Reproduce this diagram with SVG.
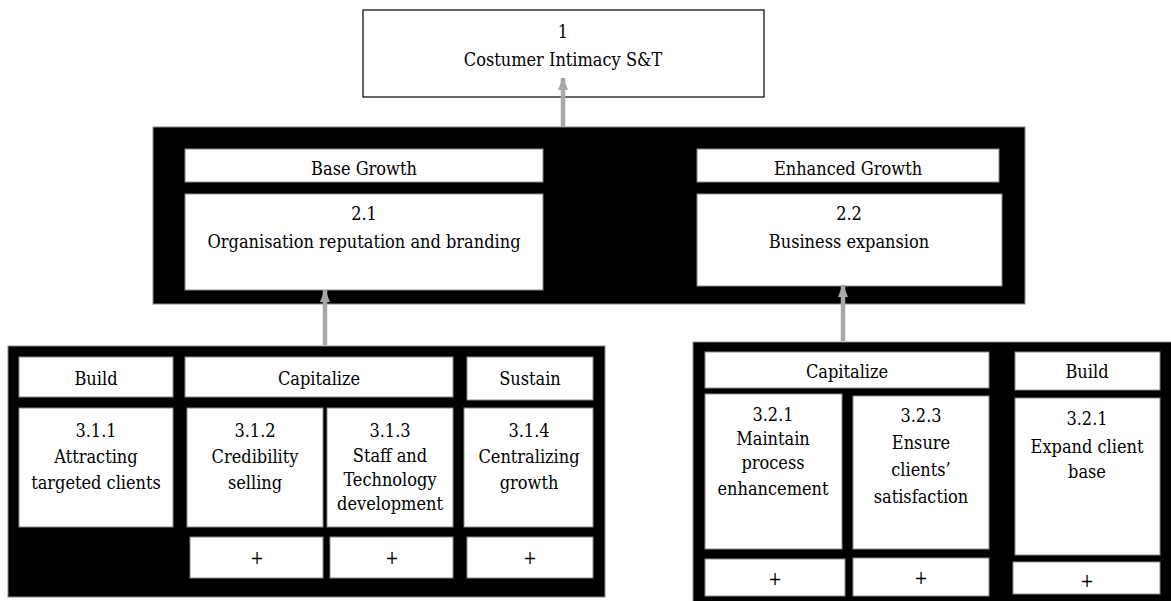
<svg xmlns="http://www.w3.org/2000/svg" width="1171" height="601" viewBox="0 0 1171 601">
  <style>
    .panel { fill: #000; stroke: #8a8a8a; stroke-width: 1; }
    .box { fill: #fff; stroke: #8a8a8a; stroke-width: 1; }
    .top { fill: #fff; stroke: #000; stroke-width: 1.2; }
    .lbl { font-family: "DejaVu Serif Condensed", "DejaVu Serif", serif; font-size: 18px; fill: #000; text-anchor: middle; }
    .link { stroke: #a8a8a8; stroke-width: 4.5; fill: none; }
  </style>
  <defs>
    <marker id="arrow" viewBox="0 0 13 10" refX="12" refY="5" markerWidth="13" markerHeight="10" markerUnits="userSpaceOnUse" orient="auto">
      <path d="M0,0 L13,5 L0,10 Z" fill="#a8a8a8"/>
    </marker>
  </defs>

  <rect width="1171" height="601" fill="#fff"/>

  <!-- level 1 -->
  <g id="node-1">
    <rect class="top" x="363" y="10" width="401" height="87"/>
    <text class="lbl" x="563" y="38">1</text>
    <text class="lbl" x="563" y="66">Costumer Intimacy S&amp;T</text>
  </g>

  <!-- level 2 panel -->
  <g id="panel-2">
    <rect class="panel" x="153" y="127" width="872" height="177"/>
  </g>
  <g id="node-base-growth">
    <rect class="box" x="185" y="149" width="358" height="33"/>
    <text class="lbl" x="364" y="175">Base Growth</text>
  </g>
  <g id="node-2-1">
    <rect class="box" x="185" y="194" width="358" height="96"/>
    <text class="lbl" x="364" y="220">2.1</text>
    <text class="lbl" x="364" y="248">Organisation reputation and branding</text>
  </g>
  <g id="node-enhanced-growth">
    <rect class="box" x="697" y="149" width="302" height="33"/>
    <text class="lbl" x="848" y="175">Enhanced Growth</text>
  </g>
  <g id="node-2-2">
    <rect class="box" x="697" y="194" width="305" height="92"/>
    <text class="lbl" x="849" y="220">2.2</text>
    <text class="lbl" x="849" y="248">Business expansion</text>
  </g>

  <!-- level 3, left panel -->
  <g id="panel-3-1">
    <rect class="panel" x="8" y="346" width="597" height="251"/>
  </g>
  <g id="node-build-1">
    <rect class="box" x="19" y="357" width="154" height="40"/>
    <text class="lbl" x="96" y="385">Build</text>
  </g>
  <g id="node-capitalize-1">
    <rect class="box" x="185" y="357" width="268" height="40"/>
    <text class="lbl" x="319" y="385">Capitalize</text>
  </g>
  <g id="node-sustain">
    <rect class="box" x="467" y="357" width="126" height="43"/>
    <text class="lbl" x="530" y="385">Sustain</text>
  </g>
  <g id="node-3-1-1">
    <rect class="box" x="19" y="408" width="154" height="119"/>
    <text class="lbl" x="96" y="437">3.1.1</text>
    <text class="lbl" x="96" y="463">Attracting</text>
    <text class="lbl" x="96" y="489">targeted clients</text>
  </g>
  <g id="node-3-1-2">
    <rect class="box" x="187" y="408" width="136" height="119"/>
    <text class="lbl" x="255" y="437">3.1.2</text>
    <text class="lbl" x="255" y="463">Credibility</text>
    <text class="lbl" x="255" y="489">selling</text>
  </g>
  <g id="node-3-1-3">
    <rect class="box" x="327" y="408" width="126" height="119"/>
    <text class="lbl" x="390" y="437">3.1.3</text>
    <text class="lbl" x="390" y="462">Staff and</text>
    <text class="lbl" x="390" y="486">Technology</text>
    <text class="lbl" x="390" y="510">development</text>
  </g>
  <g id="node-3-1-4">
    <rect class="box" x="464" y="408" width="129" height="119"/>
    <text class="lbl" x="529" y="437">3.1.4</text>
    <text class="lbl" x="529" y="463">Centralizing</text>
    <text class="lbl" x="529" y="489">growth</text>
  </g>
  <g id="node-plus-3-1-2">
    <rect class="box" x="190" y="537" width="133" height="41"/>
    <text class="lbl" x="257" y="564">+</text>
  </g>
  <g id="node-plus-3-1-3">
    <rect class="box" x="330" y="537" width="123" height="41"/>
    <text class="lbl" x="392" y="564">+</text>
  </g>
  <g id="node-plus-3-1-4">
    <rect class="box" x="467" y="537" width="126" height="41"/>
    <text class="lbl" x="530" y="564">+</text>
  </g>

  <!-- level 3, right panel -->
  <g id="panel-3-2">
    <rect class="panel" x="693" y="342" width="490" height="270"/>
  </g>
  <g id="node-capitalize-2">
    <rect class="box" x="705" y="352" width="284" height="36"/>
    <text class="lbl" x="847" y="378">Capitalize</text>
  </g>
  <g id="node-build-2">
    <rect class="box" x="1015" y="352" width="145" height="38"/>
    <text class="lbl" x="1087" y="378">Build</text>
  </g>
  <g id="node-3-2-1">
    <rect class="box" x="705" y="394" width="137" height="155"/>
    <text class="lbl" x="773" y="421">3.2.1</text>
    <text class="lbl" x="773" y="445">Maintain</text>
    <text class="lbl" x="773" y="469">process</text>
    <text class="lbl" x="773" y="495">enhancement</text>
  </g>
  <g id="node-3-2-3">
    <rect class="box" x="853" y="396" width="136" height="153"/>
    <text class="lbl" x="921" y="422">3.2.3</text>
    <text class="lbl" x="921" y="449">Ensure</text>
    <text class="lbl" x="921" y="476">clients’</text>
    <text class="lbl" x="921" y="503">satisfaction</text>
  </g>
  <g id="node-3-2-1b">
    <rect class="box" x="1015" y="398" width="145" height="157"/>
    <text class="lbl" x="1087" y="425">3.2.1</text>
    <text class="lbl" x="1087" y="453">Expand client</text>
    <text class="lbl" x="1087" y="478">base</text>
  </g>
  <g id="node-plus-3-2-1">
    <rect class="box" x="705" y="559" width="140" height="37"/>
    <text class="lbl" x="775" y="585">+</text>
  </g>
  <g id="node-plus-3-2-3">
    <rect class="box" x="853" y="558" width="136" height="38"/>
    <text class="lbl" x="921" y="584">+</text>
  </g>
  <g id="node-plus-3-2-1b">
    <rect class="box" x="1013" y="562" width="147" height="32"/>
    <text class="lbl" x="1087" y="587">+</text>
  </g>

  <!-- connectors -->
  <g id="connectors">
    <line class="link" x1="563" y1="127" x2="563" y2="78" marker-end="url(#arrow)"/>
    <line class="link" x1="325" y1="345" x2="325" y2="290" marker-end="url(#arrow)"/>
    <line class="link" x1="843" y1="341" x2="843" y2="285" marker-end="url(#arrow)"/>
  </g>
</svg>
